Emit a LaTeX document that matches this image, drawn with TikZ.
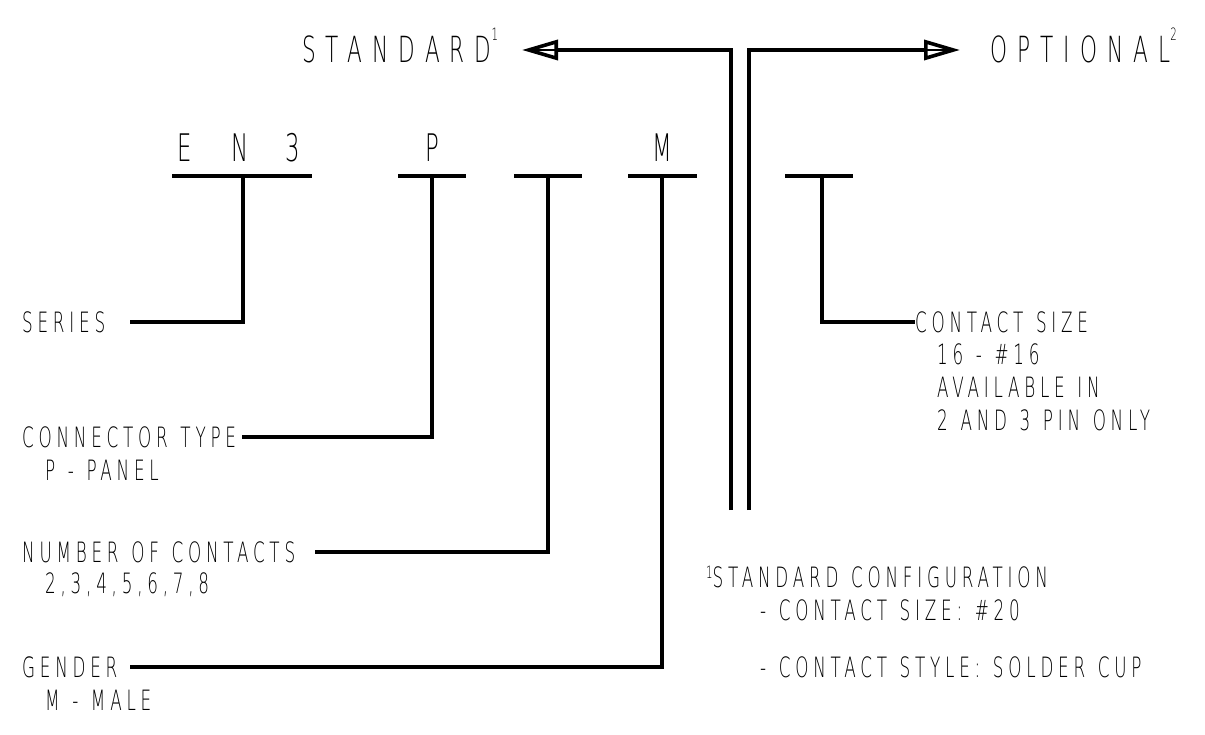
\documentclass[tikz,border=0pt]{standalone}
\usepackage{fontspec}
\setmainfont[FakeStretch=0.6,LetterSpace=17,WordSpace=1.25]{DejaVu Sans ExtraLight}
\usepackage{tikz}
\usetikzlibrary{arrows.meta,positioning}
\newcommand{\supnum}[2]{\raisebox{#1pt}{\fontsize{17}{17}\selectfont #2}}

\begin{document}
\begin{tikzpicture}[x=1pt,y=-1pt,
	lead/.style={line width=3.6pt},
	txt/.style={inner sep=0pt,anchor=west,font=\fontsize{28}{30}\selectfont},
	title/.style={inner sep=0pt,anchor=base west,font=\fontsize{36}{40}\selectfont\addfontfeature{LetterSpace=28}},
	code/.style={inner sep=0pt,font=\fontsize{38}{40}\selectfont}]
		\useasboundingbox (0,0) rectangle (1205,735);
		% part number letters
		\foreach \x/\c in {185/E,240/N,293/3,432/P,662/M}
		\node [code] (c\c) at (\x,148) {\c};
		% bars with their stems
		\foreach \n/\a/\b/\s in {en/172/312/243,ty/398/466/432,nc/514/582/548,ge/628/697/662,op/785/853/822} {
			\coordinate (\n) at (\s,176);
			\draw[lead] (\a,176) -- (\b,176);
		}
		% left side labels
		\node [txt] (series) at (22,322) {SERIES};
		\node [txt] (ctype) at (22,437) {CONNECTOR TYPE};
		\node [txt] (ctypeA) at (45,470) {P - PANEL};
		\node [txt] (ncont) at (22,552) {NUMBER OF CONTACTS};
		\node [txt] (ncontA) at (45,585) {2,3,4,5,6,7,8};
		\node [txt] (gender) at (22,667) {GENDER};
		\node [txt] (genderA) at (45,700) {M - MALE};
		\coordinate (seriesL) at (130,322);
		\coordinate (ctypeL) at (242,437);
		\coordinate (ncontL) at (315,552);
		\coordinate (genderL) at (130,667);
		\draw[lead] (seriesL) -| (en);
		\draw[lead] (ctypeL) -| (ty);
		\draw[lead] (ncontL) -| (nc);
		\draw[lead] (genderL) -| (ge);
		% optional side
		\node [txt] (csize) at (915,322) {CONTACT SIZE};
		\node [txt] (csizeA) at (937,354) {16 - \#16};
		\node [txt] (csizeB) at (937,387) {AVAILABLE IN};
		\node [txt] (csizeC) at (937,420) {2 AND 3 PIN ONLY};
		\draw[lead] (op) |- (csize.west);
		% standard / optional arrows
		\node [title] (std) at (302,63) {STANDARD\supnum{22}{1}};
		\node [title] (opt) at (990,63) {OPTIONAL\supnum{22}{2}};
		\coordinate (stdTip) at (522,50);
		\coordinate (optTip) at (960,50);
		\coordinate (stdFoot) at (731,510);
		\coordinate (optFoot) at (749,510);
		\draw[lead,-{Triangle[open,length=36pt,width=20pt]}] (stdFoot) |- (stdTip);
		\draw[lead,-{Triangle[open,length=36pt,width=20pt]}] (optFoot) |- (optTip);
		\draw[line width=2pt] ([xshift=8pt]stdTip) -- ([xshift=36pt]stdTip);
		\draw[line width=2pt] ([xshift=-8pt]optTip) -- ([xshift=-36pt]optTip);
		% footnote
		\node [txt] (note) at (706,577) {\supnum{9}{1}STANDARD CONFIGURATION};
		\node [txt] (noteA) at (760,610) {- CONTACT SIZE: \#20};
		\node [txt] (noteB) at (760,667) {- CONTACT STYLE: SOLDER CUP};
	\end{tikzpicture}
\end{document}
